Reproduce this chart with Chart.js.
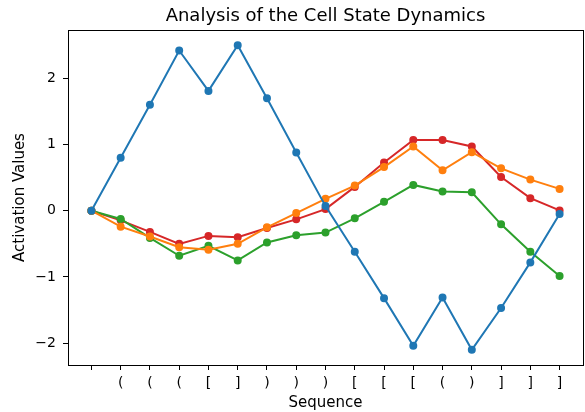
<!DOCTYPE html>
<html>
<head>
<meta charset="utf-8">
<script src="https://cdn.jsdelivr.net/npm/chart.js@4"></script>
<style>
  html, body { margin: 0; padding: 0; background: #fff; }
  #wrap { width: 585px; height: 412px; }
</style>
</head>
<body>
<div id="wrap"><canvas id="cellChart" width="585" height="412"></canvas></div>
<script>
// Метки последовательности
const seqLabels = ['', '(', '(', '(', '[', ']', ')', ')', ')', '[', '[', '[', '(', ')', ']', ']', ']'];

// Значения активаций (4 ячейки)
const cell1 = [0, 0.80, 1.60, 2.42, 1.81, 2.50, 1.70, 0.88, 0.07, -0.62, -1.32, -2.04, -1.31, -2.10, -1.47, -0.78, -0.05];
const cell2 = [0, -0.24, -0.39, -0.55, -0.59, -0.50, -0.25, -0.035, 0.18, 0.38, 0.66, 0.97, 0.61, 0.885, 0.64, 0.47, 0.33];
const cell3 = [0, -0.125, -0.41, -0.68, -0.53, -0.75, -0.48, -0.37, -0.33, -0.115, 0.135, 0.39, 0.29, 0.28, -0.205, -0.62, -0.985];
const cell4 = [0, -0.145, -0.32, -0.50, -0.38, -0.40, -0.26, -0.13, 0.025, 0.36, 0.73, 1.07, 1.07, 0.97, 0.51, 0.19, 0.005];

const yTicks = [-2, -1, 0, 1, 2];
const colors = ['#1f77b4', '#ff7f0e', '#2ca02c', '#d62728'];

const toPoints = (arr) => arr.map((v, i) => ({ x: i, y: v }));

const datasets = [cell1, cell2, cell3, cell4].map((arr, k) => ({
  data: toPoints(arr),
  borderColor: colors[k],
  backgroundColor: colors[k],
  borderWidth: 2,
  pointRadius: 3,
  pointHoverRadius: 3,
  tension: 0
}));

// Рамка вокруг области графика
const frame = {
  id: 'frame',
  afterDatasetsDraw(chart) {
    const { ctx, chartArea: a } = chart;
    ctx.save();
    ctx.strokeStyle = '#000';
    ctx.lineWidth = 1;
    ctx.strokeRect(Math.round(a.left) + 0.5, Math.round(a.top) + 0.5,
      Math.round(a.right - a.left), Math.round(a.bottom - a.top));
    ctx.restore();
  }
};

const font = 'DejaVu Sans';

new Chart(document.getElementById('cellChart'), {
  type: 'line',
  data: { datasets },
  options: {
    responsive: false,
    animation: false,
    events: [],
    layout: { autoPadding: false, padding: { left: 0, right: 2, top: 0, bottom: 0 } },
    plugins: {
      legend: { display: false },
      tooltip: { enabled: false },
      title: {
        display: true,
        fullSize: false,
        text: 'Analysis of the Cell State Dynamics',
        color: '#000',
        font: { family: font, size: 18, weight: 'normal' },
        padding: { top: 5.2, bottom: 3.2 }
      }
    },
    scales: {
      x: {
        type: 'linear',
        min: -0.8,
        max: 16.8,
        afterFit(scale) { scale.height = 47; },
        afterBuildTicks(scale) { scale.ticks = seqLabels.map((_, i) => ({ value: i })); },
        grid: { drawOnChartArea: false, drawTicks: true, tickLength: 5, color: '#000' },
        border: { display: true, color: '#000' },
        ticks: {
          color: '#000',
          font: { family: font, size: 14 },
          padding: 5,
          maxRotation: 0,
          autoSkip: false,
          callback: (v) => seqLabels[v]
        },
        title: {
          display: true,
          text: 'Sequence',
          color: '#000',
          font: { family: font, size: 15 },
          padding: { top: 0, bottom: 0 }
        }
      },
      y: {
        type: 'linear',
        min: -2.33,
        max: 2.73,
        afterFit(scale) { scale.width = 68; },
        afterBuildTicks(scale) { scale.ticks = yTicks.map((v) => ({ value: v })); },
        grid: { drawOnChartArea: false, drawTicks: true, tickLength: 5, color: '#000' },
        border: { display: true, color: '#000' },
        ticks: {
          color: '#000',
          font: { family: font, size: 14 },
          padding: 7,
          callback: (v) => (v < 0 ? '\u2212' + Math.abs(v) : String(v))
        },
        title: {
          display: true,
          text: 'Activation Values',
          color: '#000',
          font: { family: font, size: 15 },
          padding: { top: 11, bottom: 0 }
        }
      }
    }
  },
  plugins: [frame]
});
</script>
</body>
</html>
